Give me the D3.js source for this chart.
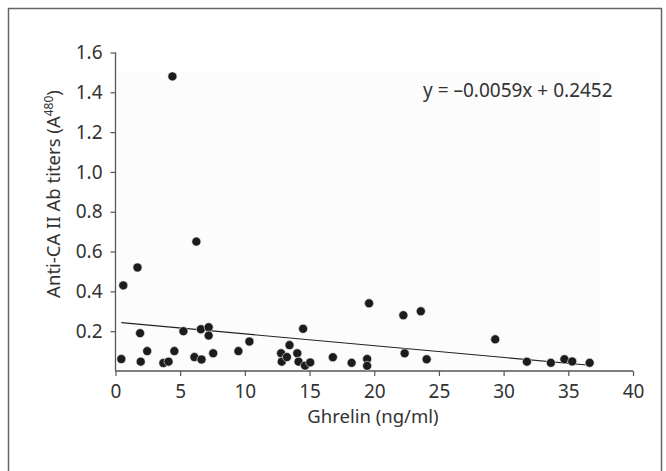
<!DOCTYPE html>
<html lang="en">
<head>
<meta charset="utf-8"/>
<title>Ghrelin vs anti-CA II</title>
<script src="https://d3js.org/d3.v7.min.js"></script>
<style>
    body { margin: 0; background: #fff; }
    text { font-family: "Noto Sans", sans-serif; fill: #333; }
</style>
</head>
<body>
<script>
    // ghrelin (ng/ml) and anti-CA II titers
    const ghrelin = [0.45, 0.6, 1.7, 1.9, 1.95, 2.45, 3.7, 4.1, 4.4, 4.55,
        5.25, 6.1, 6.25, 6.6, 6.65, 7.2, 7.2, 7.55, 9.5, 10.35,
        12.8, 12.85, 13.25, 13.45, 14.05, 14.15, 14.5, 14.65, 15.05, 16.8,
        18.25, 19.45, 19.45, 19.6, 22.25, 22.35, 23.6, 24.05, 29.35, 31.8,
        33.65, 34.7, 35.3, 36.65];
    const titers = [0.06, 0.43, 0.52, 0.19, 0.047, 0.10, 0.04, 0.047, 1.48, 0.10,
        0.20, 0.07, 0.65, 0.21, 0.058, 0.22, 0.178, 0.089, 0.10, 0.148,
        0.089, 0.047, 0.07, 0.13, 0.089, 0.047, 0.212, 0.027, 0.043, 0.069,
        0.041, 0.06, 0.026, 0.34, 0.28, 0.089, 0.30, 0.059, 0.159, 0.047,
        0.041, 0.059, 0.048, 0.041];
    const xTicks = [0, 5, 10, 15, 20, 25, 30, 35, 40];
    const yTicks = [0.2, 0.4, 0.6, 0.8, 1.0, 1.2, 1.4, 1.6];
    const slope = -0.0059, intercept = 0.2452;

    const W = 666, H = 471;
    const svg = d3.select("body").append("svg")
        .attr("width", W).attr("height", H);

    // outer frame
    svg.append("rect")
        .attr("x", 8.5).attr("y", 8.5)
        .attr("width", 653).attr("height", 480)
        .attr("fill", "none").attr("stroke", "#666").attr("stroke-width", 1.5);

    const x = d3.scaleLinear().domain([0, 40]).range([115.5, 633]);
    const y = d3.scaleLinear().domain([0, 1.6]).range([371, 52.5]);

    // faint plot background
    svg.append("rect")
        .attr("x", x(0.2)).attr("y", y(1.5))
        .attr("width", x(37.5) - x(0.2)).attr("height", y(0) - y(1.5))
        .attr("fill", "#fcfcfc");

    const xAxis = svg.append("g")
        .attr("transform", `translate(0,${y(0)})`)
        .call(d3.axisBottom(x).tickValues(xTicks).tickSize(5).tickPadding(9).tickFormat(d3.format("d")));
    const yAxis = svg.append("g")
        .attr("transform", `translate(${x(0)},0)`)
        .call(d3.axisLeft(y).tickValues(yTicks).tickSize(5).tickPadding(8).tickFormat(d3.format(".1f")));

    [xAxis, yAxis].forEach(g => {
        g.select(".domain").attr("stroke", "#555").attr("stroke-width", 1.3);
        g.selectAll(".tick line").attr("stroke", "#555").attr("stroke-width", 1.2);
        g.selectAll(".tick text").attr("font-size", 19).attr("fill", "#333")
            .attr("font-family", "'Noto Sans', sans-serif");
    });
    yAxis.select(".domain").attr("d", `M0,${y(1.6)}V${y(0)}`);
    xAxis.select(".domain").attr("d", `M${x(0)},0H${x(40)}`);

    // regression line over data range
    const xExt = d3.extent(ghrelin);
    svg.append("line")
        .attr("x1", x(xExt[0])).attr("y1", y(slope * xExt[0] + intercept))
        .attr("x2", x(xExt[1])).attr("y2", y(slope * xExt[1] + intercept))
        .attr("stroke", "#222").attr("stroke-width", 1.2);

    // points
    const pts = ghrelin.map((g, i) => ({g, t: titers[i]}));
    svg.append("g").selectAll("circle")
        .data(pts).enter().append("circle")
        .attr("cx", d => x(d.g))
        .attr("cy", d => y(d.t))
        .attr("r", 4.5)
        .attr("fill", "#1c1c1c")
        .attr("stroke", "#eee").attr("stroke-width", 0.6);

    // equation
    svg.append("text")
        .attr("x", 423).attr("y", 97)
        .attr("font-size", 19)
        .text("y = \u20130.0059x + 0.2452");

    // axis titles
    svg.append("text")
        .attr("x", 373).attr("y", 423)
        .attr("text-anchor", "middle")
        .attr("font-size", 18.5)
        .text("Ghrelin (ng/ml)");

    const yt = svg.append("text")
        .attr("transform", "translate(60,194) rotate(-90)")
        .attr("text-anchor", "middle")
        .attr("font-size", 18.5);
    yt.append("tspan").text("Anti-CA II Ab titers (A");
    yt.append("tspan").attr("font-size", 12).attr("dy", -7).text("480");
    yt.append("tspan").attr("dy", 7).text(")");
</script>
</body>
</html>
